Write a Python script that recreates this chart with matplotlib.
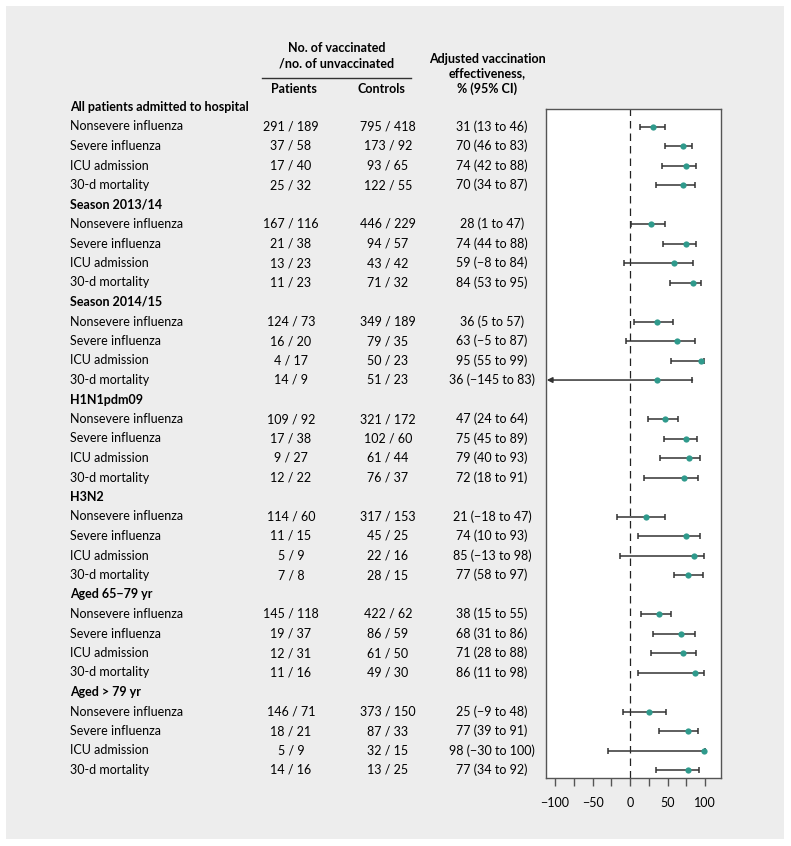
import matplotlib
matplotlib.use('Agg')
import matplotlib.pyplot as plt
from matplotlib.patches import Rectangle

plt.rcParams['font.family'] = ['Lato', 'DejaVu Sans']

groups = ['All patients admitted to hospital', 'Season 2013/14', 'Season 2014/15',
          'H1N1pdm09', 'H3N2', 'Aged 65\u221279 yr', 'Aged > 79 yr']
outcomes = ['Nonsevere influenza', 'Severe influenza', 'ICU admission', '30-d mortality']

patients = ['291 / 189', '37 / 58', '17 / 40', '25 / 32',
            '167 / 116', '21 / 38', '13 / 23', '11 / 23',
            '124 / 73', '16 / 20', '4 / 17', '14 / 9',
            '109 / 92', '17 / 38', '9 / 27', '12 / 22',
            '114 / 60', '11 / 15', '5 / 9', '7 / 8',
            '145 / 118', '19 / 37', '12 / 31', '11 / 16',
            '146 / 71', '18 / 21', '5 / 9', '14 / 16']
controls = ['795 / 418', '173 / 92', '93 / 65', '122 / 55',
            '446 / 229', '94 / 57', '43 / 42', '71 / 32',
            '349 / 189', '79 / 35', '50 / 23', '51 / 23',
            '321 / 172', '102 / 60', '61 / 44', '76 / 37',
            '317 / 153', '45 / 25', '22 / 16', '28 / 15',
            '422 / 62', '86 / 59', '61 / 50', '49 / 30',
            '373 / 150', '87 / 33', '32 / 15', '13 / 25']
ve = [31, 70, 74, 70, 28, 74, 59, 84, 36, 63, 95, 36, 47, 75, 79, 72,
      21, 74, 85, 77, 38, 68, 71, 86, 25, 77, 98, 77]
lo = [13, 46, 42, 34, 1, 44, -8, 53, 5, -5, 55, -145, 24, 45, 40, 18,
      -18, 10, -13, 58, 15, 31, 28, 11, -9, 39, -30, 34]
hi = [46, 83, 88, 87, 47, 88, 84, 95, 57, 87, 99, 83, 64, 89, 93, 91,
      47, 93, 98, 97, 55, 86, 88, 98, 48, 91, 100, 92]

W, H = 791, 846
fig = plt.figure(figsize=(W / 100, H / 100), dpi=100)
fig.patch.set_facecolor('white')

bg = fig.add_axes([0, 0, 1, 1])
bg.set_xlim(0, W); bg.set_ylim(H, 0); bg.axis('off')
bg.add_patch(Rectangle((6, 6), 778, 833, facecolor='#ededed', edgecolor='none'))

FS = 9
y0, dy = 107, 19.5
row_y = lambda i: y0 + dy * i

# column headers
bg.text(337, 56, 'No. of vaccinated\n/no. of unvaccinated', ha='center', va='center',
        fontsize=FS, fontweight='bold', linespacing=1.3)
bg.plot([262, 411], [78, 78], color='#333333', lw=1)
bg.text(294, 89, 'Patients', ha='center', va='center', fontsize=FS, fontweight='bold')
bg.text(381, 89, 'Controls', ha='center', va='center', fontsize=FS, fontweight='bold')
bg.text(487, 74, 'Adjusted vaccination\neffectiveness,\n% (95% CI)', ha='center',
        va='center', fontsize=FS, fontweight='bold', linespacing=1.3)

n = 0
for g, grp in enumerate(groups):
    bg.text(70, row_y(g * 5), grp, ha='left', va='center', fontsize=FS, fontweight='bold')
    for k, oc in enumerate(outcomes):
        y = row_y(g * 5 + 1 + k)
        bg.text(70, y, oc, ha='left', va='center', fontsize=FS)
        bg.text(291, y, patients[n], ha='center', va='center', fontsize=FS)
        bg.text(388, y, controls[n], ha='center', va='center', fontsize=FS)
        lo_s = str(lo[n]).replace('-', '\u2212')
        bg.text(492, y, f'{ve[n]} ({lo_s} to {hi[n]})', ha='center', va='center', fontsize=FS)
        n += 1

# forest plot
ax = fig.add_axes([546 / W, 1 - 778 / H, 175 / W, 669 / H])
xmin, xmax = -112, 121
ax.set_xlim(xmin, xmax)
ax.set_ylim(34.41, 0.1)
ax.set_facecolor('white')
ax.axvline(0, color='#222222', lw=0.9, ls=(0, (6, 4)))

n = 0
for g in range(len(groups)):
    for k in range(len(outcomes)):
        i = g * 5 + 1 + k
        if lo[n] < xmin:
            ax.annotate('', xy=(xmin + 1, i), xytext=(hi[n], i),
                        arrowprops=dict(arrowstyle='-|>', color='#333333', lw=1.1,
                                        mutation_scale=8, shrinkA=0, shrinkB=0))
            ax.plot([hi[n]], [i], marker='|', color='#333333', ms=5, mew=1.1)
        else:
            ax.errorbar([ve[n]], [i], xerr=[[ve[n] - lo[n]], [hi[n] - ve[n]]], fmt='none',
                        ecolor='#333333', elinewidth=1.1, capsize=2.5, capthick=1.1)
        ax.plot([ve[n]], [i], 'o', color='#2f9a8c', ms=4.5, mec='none', zorder=5)
        n += 1

ax.set_yticks([])
ax.set_xticks(range(-100, 101, 25))
ax.set_xticklabels(['\u2212100', '', '\u221250', '', '0', '', '50', '', '100'], fontsize=FS)
ax.tick_params(axis='x', length=6, width=1, color='#555555', pad=8)
for s in ax.spines.values():
    s.set_color('#555555')
    s.set_linewidth(1)

fig.savefig('out.png', dpi=100)
